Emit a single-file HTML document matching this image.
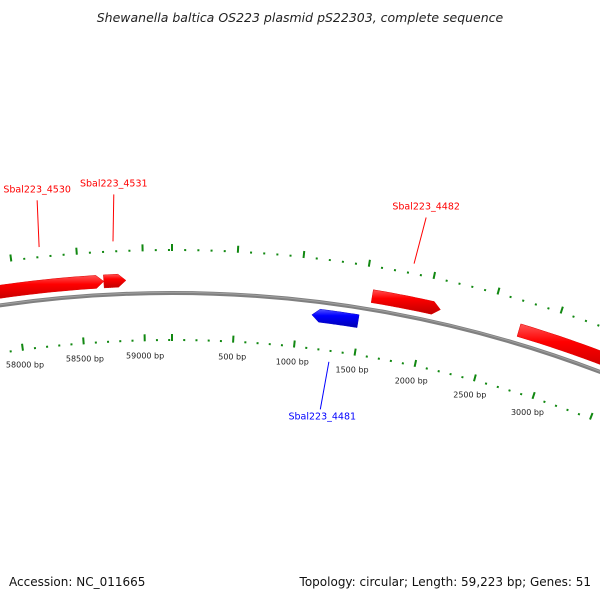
<!DOCTYPE html>
<html><head><meta charset="utf-8"><style>
html,body{margin:0;background:#fff;width:600px;height:600px;overflow:hidden}
svg{display:block;overflow:hidden}
</style></head><body>
<svg id="map" width="600" height="600" viewBox="0 0 600 600" xmlns="http://www.w3.org/2000/svg">
<defs>
<linearGradient id="redg" x1="0" y1="0" x2="0" y2="1"><stop offset="0" stop-color="#ff5555"/><stop offset="0.35" stop-color="#ff0000"/><stop offset="1" stop-color="#c00000"/></linearGradient>
<linearGradient id="blueg" x1="0" y1="0" x2="0" y2="1"><stop offset="0" stop-color="#5555ff"/><stop offset="0.35" stop-color="#0000ff"/><stop offset="1" stop-color="#0000b0"/></linearGradient>
<clipPath id="clipall"><rect x="0" y="0" width="600" height="600"/></clipPath>
</defs>
<text x="300" y="22" text-anchor="middle" font-family="DejaVu Sans, sans-serif" font-style="italic" font-size="12.5" fill="#222">Shewanella baltica OS223 plasmid pS22303, complete sequence</text>
<g clip-path="url(#clipall)">
<g id="ticks"></g>
<circle cx="172" cy="1493" r="1200" fill="none" stroke="#808080" stroke-width="4"/>
<circle cx="172" cy="1493" r="1200.6" fill="none" stroke="#a0a0a0" stroke-width="1"/>
<g id="genes"></g>
</g>
<text x="9" y="586" font-family="DejaVu Sans, sans-serif" font-size="12" fill="#111">Accession: NC_011665</text>
<text x="591" y="586" text-anchor="end" font-family="DejaVu Sans, sans-serif" font-size="12" fill="#111">Topology: circular; Length: 59,223 bp; Genes: 51</text>
</svg>
<script>
const seqLength = 59223;
const geneNames = ["Sbal223_4530","Sbal223_4531","Sbal223_4481","Sbal223_4482","Sbal223_4483"];
const geneStarts = [57750, 58693, 1114, 1563, 2733];
const geneEnds = [58693, 58865, 1484, 2102, 3700];
const geneStrands = [1, 1, -1, 1, 1];
const geneLabeled = [true, true, true, true, false];
const tickLabels = ["58000 bp","58500 bp","59000 bp","500 bp","1000 bp","1500 bp","2000 bp","2500 bp","3000 bp"];
const tickLabelPos = [58000,58500,59000,500,1000,1500,2000,2500,3000];

const NS="http://www.w3.org/2000/svg";
const CX=172, CY=1493;
function ang(bp){return bp/seqLength*2*Math.PI;}
function pt(bp,r){const a=ang(bp);return [CX+r*Math.sin(a), CY-r*Math.cos(a)];}
function mk(tag,attrs,parent){const e=document.createElementNS(NS,tag);for(const k in attrs)e.setAttribute(k,attrs[k]);parent.appendChild(e);return e;}

const tg=document.getElementById('ticks');
function ring(r,nameBase){
  const list=[];
  for(let b=55000;b<seqLength;b+=100)list.push(b);
  for(let b=0;b<=5000;b+=100)list.push(b);
  list.forEach(b=>{
    const major = b%500===0;
    const p1=pt(b, r), p2=pt(b, r+(major?7:2));
    const l=mk('line',{x1:p1[0],y1:p1[1],x2:p2[0],y2:p2[1],stroke:'#118811','stroke-width':2},tg);
    
    
  });
}
ring(1242,'outer');
ring(1152,'inner');
tickLabels.forEach((t,i)=>{
  const p=pt(tickLabelPos[i],1136);
  const e=mk('text',{x:p[0],y:p[1]+1,'text-anchor':'middle','font-family':'DejaVu Sans, sans-serif','font-size':'8',fill:'#222'},tg);
  e.textContent=t;
  
  
});

const gg=document.getElementById('genes');
function arcPts(s,e,r,n){const a=[];for(let i=0;i<=n;i++){a.push(pt(s+(e-s)*i/n,r));}return a;}
geneNames.forEach((name,i)=>{
  const fwd=geneStrands[i]>0;
  const r1=fwd?1207:1180, r2=fwd?1220:1193, rm=(r1+r2)/2;
  const s=geneStarts[i], e=geneEnds[i];
  const head=60;
  let pts=[];
  if(fwd){
    pts=pts.concat(arcPts(s,e-head,r2,20));
    pts.push(pt(e,rm));
    pts=pts.concat(arcPts(e-head,s,r1,20));
  } else {
    pts=pts.concat(arcPts(e,s+head,r2,20));
    pts.push(pt(s,rm));
    pts=pts.concat(arcPts(s+head,e,r1,20));
  }
  const col=fwd?'#ff0000':'#0000ff';
  const poly=mk('polygon',{points:pts.map(p=>p[0].toFixed(1)+','+p[1].toFixed(1)).join(' '),fill:fwd?'url(#redg)':'url(#blueg)',stroke:fwd?'#dd0000':'#0000cc','stroke-width':0.5},gg);
  
  
  if(geneLabeled[i]){
    const mid=(s+e)/2;
    const r0=fwd?1253:1142, r3=fwd?1300:1094;
    const a=pt(mid,r0), b=pt(mid,r3);
    const ln=mk('line',{x1:a[0],y1:a[1],x2:b[0]+(fwd?3:-2),y2:b[1],stroke:col,'stroke-width':1},gg);
    
    
    const tx=mk('text',{x:b[0]+(fwd?3:0),y:fwd?b[1]-8:b[1]+10,'text-anchor':'middle','font-family':'DejaVu Sans, sans-serif','font-size':'9.5',fill:col},gg);
    tx.textContent=name;
    
    
  }
});
</script>
</body></html>
